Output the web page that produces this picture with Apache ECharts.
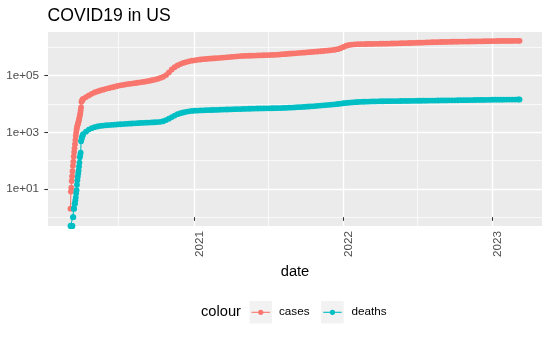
<!DOCTYPE html>
<html><head><meta charset="utf-8">
<script src="https://cdn.jsdelivr.net/npm/echarts@6/dist/echarts.min.js"></script>
<style>html,body{margin:0;padding:0;background:#fff}#c{width:550px;height:339px}</style>
</head><body><div id="c"></div>
<script>
// ---- data ----
const dates = [
// daily, March - early April 2020
'2020-03-05','2020-03-06','2020-03-07','2020-03-08','2020-03-09','2020-03-10','2020-03-11','2020-03-12','2020-03-13','2020-03-14',
'2020-03-15','2020-03-16','2020-03-17','2020-03-18','2020-03-19','2020-03-20','2020-03-21','2020-03-22','2020-03-23','2020-03-24',
'2020-03-25','2020-03-26','2020-03-27','2020-03-28','2020-03-29','2020-03-30','2020-03-31','2020-04-01','2020-04-02','2020-04-03',
'2020-04-04','2020-04-05',
// weekly afterwards
'2020-04-12','2020-04-19','2020-04-26',
'2020-05-03','2020-05-10','2020-05-17','2020-05-24','2020-05-31',
'2020-06-07','2020-06-14','2020-06-21','2020-06-28',
'2020-07-05','2020-07-12','2020-07-19','2020-07-26',
'2020-08-02','2020-08-09','2020-08-16','2020-08-23','2020-08-30',
'2020-09-06','2020-09-13','2020-09-20','2020-09-27',
'2020-10-04','2020-10-11','2020-10-18','2020-10-25',
'2020-11-01','2020-11-08','2020-11-15','2020-11-22','2020-11-29',
'2020-12-06','2020-12-13','2020-12-20','2020-12-27',
'2021-01-03','2021-01-10','2021-01-17','2021-01-24','2021-01-31',
'2021-02-07','2021-02-14','2021-02-21','2021-02-28',
'2021-03-07','2021-03-14','2021-03-21','2021-03-28',
'2021-04-04','2021-04-11','2021-04-18','2021-04-25',
'2021-05-02','2021-05-09','2021-05-16','2021-05-23','2021-05-30',
'2021-06-06','2021-06-13','2021-06-20','2021-06-27',
'2021-07-04','2021-07-11','2021-07-18','2021-07-25',
'2021-08-01','2021-08-08','2021-08-15','2021-08-22','2021-08-29',
'2021-09-05','2021-09-12','2021-09-19','2021-09-26',
'2021-10-03','2021-10-10','2021-10-17','2021-10-24','2021-10-31',
'2021-11-07','2021-11-14','2021-11-21','2021-11-28',
'2021-12-05','2021-12-12','2021-12-19','2021-12-26',
'2022-01-02','2022-01-09','2022-01-16','2022-01-23','2022-01-30',
'2022-02-06','2022-02-13','2022-02-20','2022-02-27',
'2022-03-06','2022-03-13','2022-03-20','2022-03-27',
'2022-04-03','2022-04-10','2022-04-17','2022-04-24',
'2022-05-01','2022-05-08','2022-05-15','2022-05-22','2022-05-29',
'2022-06-05','2022-06-12','2022-06-19','2022-06-26',
'2022-07-03','2022-07-10','2022-07-17','2022-07-24','2022-07-31',
'2022-08-07','2022-08-14','2022-08-21','2022-08-28',
'2022-09-04','2022-09-11','2022-09-18','2022-09-25',
'2022-10-02','2022-10-09','2022-10-16','2022-10-23','2022-10-30',
'2022-11-06','2022-11-13','2022-11-20','2022-11-27',
'2022-12-04','2022-12-11','2022-12-18','2022-12-25',
'2023-01-01','2023-01-08','2023-01-15','2023-01-22','2023-01-29',
'2023-02-05','2023-02-12','2023-02-19','2023-02-26',
'2023-03-05','2023-03-09'
];
const cases = [
2,8,11,19,28,42,65,92,140,200,
270,380,530,740,980,1250,1500,1720,1950,2180,
2420,2850,3350,3950,4700,5900,7600,12000,12900,13700,
14400,15000,
17500,20000,22800,
25500,27800,30000,32000,34200,
36300,38500,40700,43200,
45500,47300,49300,51000,
52700,54500,56200,58000,60000,
62500,65500,69000,72500,
77000,83000,91000,105000,
130000,165000,200000,230000,258000,
282000,303000,322000,338000,
350000,363000,373000,382000,390000,
398000,405000,413000,420000,
428000,436000,445000,455000,
465000,475000,484000,491000,
497000,502000,506000,510000,514000,
518000,522000,526000,530000,
534000,539000,546000,554000,
563000,573000,584000,596000,607000,
618000,629000,640000,652000,
664000,677000,690000,703000,716000,
730000,745000,762000,780000,
800000,826000,865000,930000,
1030000,1140000,1215000,1255000,1280000,
1295000,1305000,1312000,1318000,
1323000,1328000,1333000,1338000,
1343000,1348000,1354000,1361000,
1369000,1378000,1388000,1398000,1408000,
1418000,1428000,1438000,1448000,
1459000,1470000,1482000,1494000,1506000,
1517000,1527000,1537000,1546000,
1555000,1563000,1571000,1578000,
1585000,1591000,1597000,1603000,1609000,
1615000,1621000,1627000,1634000,
1641000,1648000,1655000,1662000,
1669000,1675000,1680000,1684000,1688000,
1691000,1694000,1697000,1700000,
1703000,1705000
];
const deaths = [
0,0,0,0,0,0,1,1,2,2,
3,3,4,5,7,9,14,20,27,35,
45,62,85,130,160,190,480,560,640,720,
790,860,
1050,1250,1400,
1520,1610,1680,1730,1770,
1800,1830,1860,1890,
1920,1950,1985,2015,
2045,2075,2105,2135,2160,
2180,2205,2235,2265,
2300,2345,2450,2700,
3020,3450,3900,4350,4700,
5000,5300,5520,5680,
5780,5860,5920,5970,6020,
6070,6120,6170,6220,
6270,6320,6370,6420,
6470,6530,6580,6630,
6690,6740,6790,6840,6890,
6920,6950,6980,7010,
7030,7060,7100,7140,
7190,7250,7320,7400,7490,
7580,7680,7790,7900,
8020,8150,8290,8430,8580,
8750,8930,9120,9320,
9530,9760,10000,10280,
10600,10900,11150,11380,11580,
11750,11890,12010,12110,
12200,12280,12350,12410,
12460,12500,12540,12580,
12620,12660,12700,12740,12780,
12820,12860,12900,12940,
12980,13020,13060,13100,13140,
13180,13220,13260,13300,
13340,13380,13420,13460,
13500,13540,13580,13620,13660,
13700,13750,13800,13850,
13900,13950,14000,14050,
14100,14140,14180,14210,14240,
14270,14300,14320,14340,
14370,14390
];
const seriesNames = ['cases', 'deaths'];
const seriesColors = ['#F8766D', '#00BFC4'];
const yTickValues = [10, 1000, 100000];
const yTickLabels = ['1e+01', '1e+03', '1e+05'];
const yMinorValues = [1, 100, 10000, 1000000];
const xTickDates = ['2021-01-01', '2022-01-01', '2023-01-01'];
const xTickLabels = ['2021', '2022', '2023'];
const xMinorDates = ['2020-07-01', '2021-07-01', '2022-07-01'];
const titleText = 'COVID19 in US';
const xTitle = 'date';
const legendTitle = 'colour';

// ---- build ----
const FF = '"Liberation Sans", Arial, sans-serif';
const toTime = s => new Date(s + 'T00:00:00').getTime();
const t = dates.map(toTime);
const tMin = Math.min(...t), tMax = Math.max(...t), tPad = 0.05 * (tMax - tMin);
const logs = cases.concat(deaths).filter(v => v > 0).map(v => Math.log10(v));
const lMin = Math.min(...logs), lMax = Math.max(...logs), lPad = 0.05 * (lMax - lMin);
const yMin = lMin - lPad, yMax = lMax + lPad;
const toLog = v => v > 0 ? Math.log10(v) : yMin; // zero -> panel edge, as ggplot draws -Inf

const xTickTimes = xTickDates.map(toTime);
const yTickLogs = yTickValues.map(v => Math.log10(v));
function nearestLabel(v, vals, labels) {
  let bi = 0, bd = Infinity;
  vals.forEach((x, i) => { const d = Math.abs(x - v); if (d < bd) { bd = d; bi = i; } });
  return labels[bi];
}

const serData = [cases, deaths].map(arr => arr.map((v, i) => [t[i], toLog(v)]));

const chart = echarts.init(document.getElementById('c'), null, {renderer: 'canvas', width: 550, height: 339});

const legendG = [];
legendG.push({type: 'text', left: 201, top: 304, style: {text: legendTitle, fontSize: 14.7, fontFamily: FF, fill: '#000'}});
const keyX = [249.5, 321.2], textX = [279, 351.5];
seriesNames.forEach((n, i) => {
  legendG.push({type: 'rect', shape: {x: keyX[i], y: 301, width: 22.5, height: 22.5}, style: {fill: '#F2F2F2'}});
  legendG.push({type: 'line', shape: {x1: keyX[i] + 2, y1: 312.3, x2: keyX[i] + 20.5, y2: 312.3}, style: {stroke: seriesColors[i], lineWidth: 1.1}});
  legendG.push({type: 'circle', shape: {cx: keyX[i] + 11.25, cy: 312.3, r: 2.6}, style: {fill: seriesColors[i]}});
  legendG.push({type: 'text', left: textX[i], top: 305.5, style: {text: n, fontSize: 11.7, fontFamily: FF, fill: '#000'}});
});

const option = {
  animation: false,
  backgroundColor: '#fff',
  title: {text: titleText, left: 47.5, top: 7.5, padding: 0,
          textStyle: {fontSize: 17.6, fontWeight: 'normal', color: '#000', fontFamily: FF}},
  grid: {left: 48, right: 8, top: 32, bottom: 113, show: true, backgroundColor: '#EBEBEB', borderWidth: 0, containLabel: false},
  xAxis: [
    {type: 'value', min: tMin - tPad, max: tMax + tPad,
     axisLine: {show: false},
     axisTick: {show: true, customValues: xTickTimes, length: 3.7, lineStyle: {color: '#333333', width: 1.07}},
     axisLabel: {customValues: xTickTimes, rotate: 90, margin: 5, verticalAlign: 'top',
       formatter: v => nearestLabel(v, xTickTimes, xTickLabels), color: '#4D4D4D', fontSize: 11.7, fontFamily: FF},
     splitLine: {show: true, lineStyle: {color: '#FFFFFF', width: 1.4}},
     name: xTitle, nameLocation: 'middle', nameGap: 38,
     nameTextStyle: {fontSize: 14.7, color: '#000', fontFamily: FF}},
    {type: 'value', min: tMin - tPad, max: tMax + tPad, position: 'bottom',
     axisLine: {show: false},
     axisTick: {show: false, customValues: xMinorDates.map(toTime)},
     axisLabel: {show: false},
     splitLine: {show: true, lineStyle: {color: '#FFFFFF', width: 0.7}}}
  ],
  yAxis: [
    {type: 'value', min: yMin, max: yMax,
     axisLine: {show: false},
     axisTick: {show: true, customValues: yTickLogs, length: 3.7, lineStyle: {color: '#333333', width: 1.07}},
     axisLabel: {customValues: yTickLogs, margin: 9, formatter: v => nearestLabel(v, yTickLogs, yTickLabels),
       color: '#4D4D4D', fontSize: 11.7, fontFamily: FF},
     splitLine: {show: true, lineStyle: {color: '#FFFFFF', width: 1.4}}},
    {type: 'value', min: yMin, max: yMax, position: 'left',
     axisLine: {show: false},
     axisTick: {show: false, customValues: yMinorValues.map(v => Math.log10(v))},
     axisLabel: {show: false},
     splitLine: {show: true, lineStyle: {color: '#FFFFFF', width: 0.7}}}
  ],
  series: seriesNames.map((n, i) => ({
    type: 'line', name: n, xAxisIndex: 0, yAxisIndex: 0, data: serData[i],
    symbol: 'circle', symbolSize: 5.8, showSymbol: true, showAllSymbol: true,
    lineStyle: {color: seriesColors[i], width: 1.1}, itemStyle: {color: seriesColors[i]},
    clip: false, z: 2 + i
  })),
  graphic: legendG
};
chart.setOption(option);
</script></body></html>
